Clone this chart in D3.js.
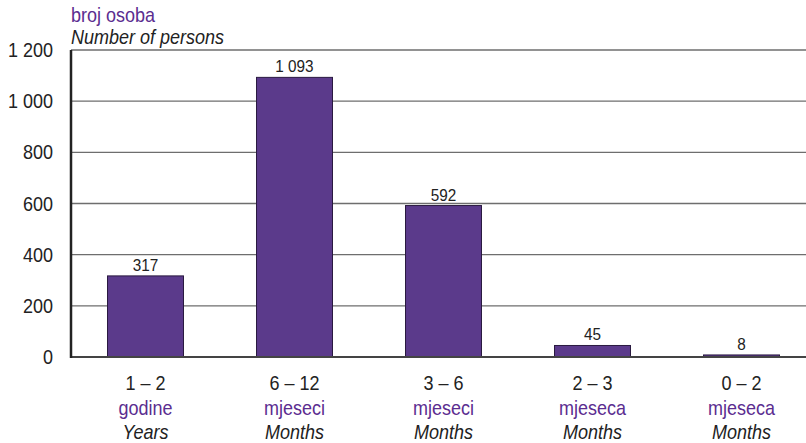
<!DOCTYPE html>
<html><head><meta charset="utf-8">
<script src="https://cdn.jsdelivr.net/npm/d3@7"></script>
<style>
body{margin:0;background:#fff;}
text{font-family:"Liberation Sans Narrow","Arial Narrow","Liberation Sans",Arial,sans-serif;}
</style></head>
<body><svg id="c" width="806" height="443"></svg>
<script>
const categories = ["1 – 2","6 – 12","3 – 6","2 – 3","0 – 2"];
const unitsHr = ["godine","mjeseci","mjeseci","mjeseca","mjeseca"];
const unitsEn = ["Years","Months","Months","Months","Months"];
const values = [317,1093,592,45,8];
const yTicks = [0,200,400,600,800,1000,1200];
const yTickLabels = ["0","200","400","600","800","1 000","1 200"];
const valueLabels = ["317","1 093","592","45","8"];

(function(){
const svg = d3.select("#c");
const pL = 71, pR = 816, pT = 50, pB = 357;
const purple = "#5b3a8b", purpleText = "#5b2d90";
const sx = 0.9;

const x = d3.scaleBand().domain(categories).range([pL, pR]).paddingInner(0.49).paddingOuter(0.245);
const y = d3.scaleLinear().domain([0,1200]).range([pB, pT]);

svg.append("g").selectAll("line").data(yTicks.filter(d=>d>0)).join("line")
  .attr("x1", pL).attr("x2", 806).attr("y1", d=>y(d)).attr("y2", d=>y(d))
  .attr("stroke", "#6e6e6e").attr("stroke-width", 1.3);

svg.append("g").selectAll("text").data(yTicks).join("text")
  .attr("transform", d=>`translate(53,${y(d)}) scale(${sx},1)`).attr("dy", "0.35em")
  .attr("text-anchor", "end").attr("font-size", 20).attr("fill", "#222")
  .text((d,i)=>yTickLabels[i]);

svg.append("g").selectAll("rect").data(values).join("rect")
  .attr("x", (d,i)=>x(categories[i])).attr("width", x.bandwidth())
  .attr("y", d=>y(d)).attr("height", d=>pB - y(d))
  .attr("fill", purple).attr("stroke", "#2a1a40").attr("stroke-width", 1);

svg.append("g").selectAll("text").data(values).join("text")
  .attr("transform", (d,i)=>`translate(${x(categories[i]) + x.bandwidth()/2},${y(d) - 5}) scale(${sx},1)`)
  .attr("text-anchor", "middle").attr("font-size", 17).attr("fill", "#222")
  .text((d,i)=>valueLabels[i]);

svg.append("line").attr("x1", pL).attr("x2", 806).attr("y1", pB).attr("y2", pB)
  .attr("stroke", "#444").attr("stroke-width", 2);
svg.append("line").attr("x1", pL).attr("x2", pL).attr("y1", pT).attr("y2", pB+1)
  .attr("stroke", "#222").attr("stroke-width", 2.5);

const cg = svg.append("g").selectAll("g").data(categories).join("g")
  .attr("transform", d=>`translate(${x(d)+x.bandwidth()/2},0) scale(${sx},1)`);
cg.append("text").attr("y", 390).attr("text-anchor","middle").attr("font-size",20).attr("fill","#222").text(d=>d);
cg.append("text").attr("y", 415).attr("text-anchor","middle").attr("font-size",20).attr("fill",purpleText).text((d,i)=>unitsHr[i]);
cg.append("text").attr("y", 439).attr("text-anchor","middle").attr("font-size",20).attr("font-style","italic").attr("fill","#222").text((d,i)=>unitsEn[i]);

svg.append("text").attr("transform", `translate(71,22) scale(${sx},1)`).attr("font-size", 20).attr("fill", purpleText).text("broj osoba");
svg.append("text").attr("transform", `translate(71,44) scale(${sx},1)`).attr("font-size", 20).attr("font-style","italic").attr("fill", "#222").text("Number of persons");
})();
</script></body></html>
